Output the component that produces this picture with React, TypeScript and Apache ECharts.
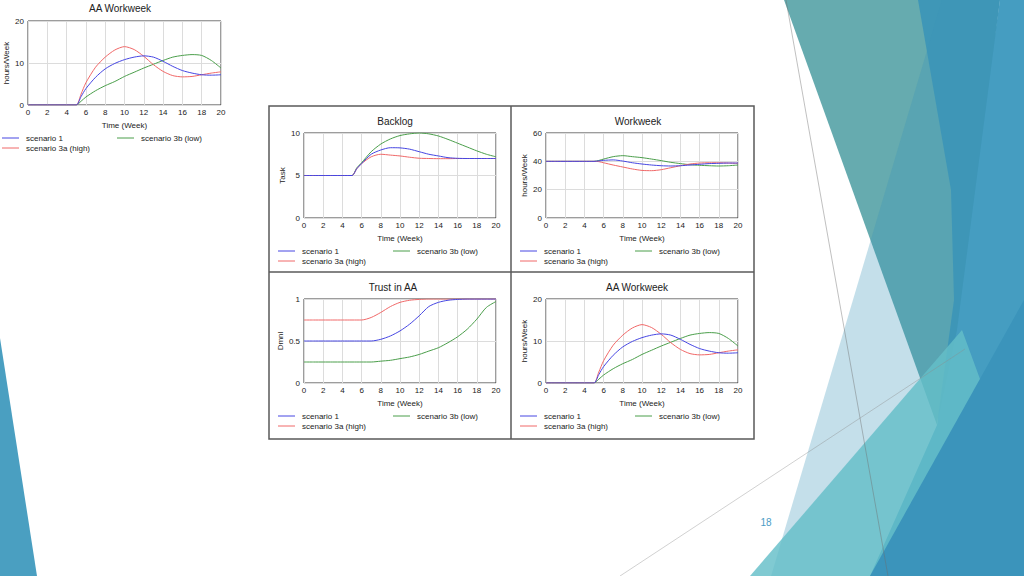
import React, { useEffect, useRef } from 'react';
import * as echarts from 'echarts';

// ---- data ----
const weeks = [0, 1, 2, 3, 4, 5, 5.5, 6, 7, 8, 9, 10, 11, 12, 13, 14, 15, 16, 17, 18, 19, 20];
const seriesNames = ['scenario 1', 'scenario 3a (high)', 'scenario 3b (low)'];

const aaWorkweekS1 = [0, 0, 0, 0, 0, 0, 2.0, 3.9, 6.6, 8.6, 9.9, 10.8, 11.4, 11.7, 11.4, 10.4, 9.2, 8.2, 7.6, 7.2, 7.1, 7.2];
const aaWorkweekS3a = [0, 0, 0, 0, 0, 0, 2.6, 5.3, 9.0, 11.4, 13.1, 13.9, 13.2, 11.6, 9.6, 8.0, 7.0, 6.7, 6.8, 7.2, 7.6, 7.9];
const aaWorkweekS3b = [0, 0, 0, 0, 0, 0, 0.9, 1.9, 3.4, 4.6, 5.6, 6.8, 7.8, 8.8, 9.7, 10.6, 11.4, 11.8, 12.0, 11.8, 10.6, 8.8];

const backlogS1 = [5, 5, 5, 5, 5, 5, 5.8, 6.4, 7.5, 8.0, 8.27, 8.25, 8.1, 7.8, 7.5, 7.3, 7.1, 7.02, 7, 7, 7, 7];
const backlogS3a = [5, 5, 5, 5, 5, 5, 5.8, 6.4, 7.2, 7.5, 7.4, 7.3, 7.15, 7.03, 7.0, 6.98, 6.98, 7.0, 7.0, 7.0, 7.0, 7.0];
const backlogS3b = [5, 5, 5, 5, 5, 5, 5.9, 6.5, 7.8, 8.7, 9.3, 9.7, 9.9, 10.0, 9.9, 9.65, 9.25, 8.8, 8.35, 7.9, 7.5, 7.2];

const workweekS1 = [40, 40, 40, 40, 40, 40, 40.3, 40.7, 41, 40.2, 39, 38.1, 37.4, 36.9, 36.7, 36.9, 37.4, 37.9, 38.4, 38.6, 38.8, 38.8];
const workweekS3a = [40, 40, 40, 40, 40, 40, 39.8, 39, 37.4, 36, 34.6, 33.6, 33.4, 34.1, 35.5, 36.9, 38.1, 38.8, 39, 39, 38.8, 38.6];
const workweekS3b = [40, 40, 40, 40, 40, 40, 40.6, 41.6, 43.3, 44, 43.3, 42.6, 41.6, 40.5, 39.3, 38.4, 37.6, 37.2, 36.9, 36.7, 36.9, 37.4];

const trustS1 = [0.5, 0.5, 0.5, 0.5, 0.5, 0.5, 0.5, 0.5, 0.5, 0.52, 0.56, 0.62, 0.70, 0.80, 0.91, 0.96, 0.985, 0.995, 1, 1, 1, 1];
const trustS3a = [0.75, 0.75, 0.75, 0.75, 0.75, 0.75, 0.75, 0.75, 0.78, 0.84, 0.91, 0.96, 0.985, 0.995, 1, 1, 1, 1, 1, 1, 1, 1];
const trustS3b = [0.25, 0.25, 0.25, 0.25, 0.25, 0.25, 0.25, 0.25, 0.25, 0.26, 0.27, 0.29, 0.31, 0.34, 0.38, 0.42, 0.48, 0.55, 0.64, 0.76, 0.90, 0.97];

const xAxisName = 'Time (Week)';
const pageNumber = '18';

// ---- layout ----
const FONT = '"Liberation Sans", Arial, sans-serif';
const lineColors = ['#4646e2', '#f06868', '#4a9e4a'];

const panels = [
  { title: 'AA Workweek', yName: 'hours/Week', yMax: 20, yStep: 10, data: [aaWorkweekS1, aaWorkweekS3a, aaWorkweekS3b], box: [28, 21, 193, 84], titleAt: [120, 8] },
  { title: 'Backlog', yName: 'Task', yMax: 10, yStep: 5, data: [backlogS1, backlogS3a, backlogS3b], box: [304, 133, 192, 85], titleAt: [395, 121] },
  { title: 'Workweek', yName: 'hours/Week', yMax: 60, yStep: 20, data: [workweekS1, workweekS3a, workweekS3b], box: [546, 133, 192, 85], titleAt: [638, 121] },
  { title: 'Trust in AA', yName: 'Dmnl', yMax: 1, yStep: 0.5, data: [trustS1, trustS3a, trustS3b], box: [304, 299, 192, 84], titleAt: [393, 287] },
  { title: 'AA Workweek', yName: 'hours/Week', yMax: 20, yStep: 10, data: [aaWorkweekS1, aaWorkweekS3a, aaWorkweekS3b], box: [546, 299, 192, 84], titleAt: [637, 287] },
];

function buildOption() {
  const grid: any[] = [];
  const xAxis: any[] = [];
  const yAxis: any[] = [];
  const series: any[] = [];
  const graphic: any[] = [];

  // decorations (background)
  const deco = (points: number[][], fill: string) =>
    graphic.push({ type: 'polygon', silent: true, z: 0, shape: { points }, style: { fill } });
  deco([[937, 425], [1000, 0], [1024, 0], [1024, 576], [870, 576]], '#4aa1c5');
  deco([[905, 0], [1000, 0], [957, 330], [938, 420], [905, 200]], '#3f97b7');
  deco([[784, 0], [918, 0], [951, 190], [954, 300], [937, 425]], '#66abaf');
  deco([[942, 0], [1024, 0], [1024, 576], [771, 576]], 'rgba(60,150,185,0.30)');
  deco([[750, 576], [962, 330], [995, 420], [905, 576]], 'rgba(100,190,200,0.82)');
  deco([[870, 576], [1024, 576], [1024, 300]], '#3b94bb');
  deco([[0, 338], [0, 576], [37, 576]], '#4a9fc1');
  graphic.push({ type: 'line', silent: true, z: 1, shape: { x1: 786, y1: 0, x2: 888, y2: 576 }, style: { stroke: 'rgba(110,110,110,0.55)', lineWidth: 0.8 } });
  graphic.push({ type: 'line', silent: true, z: 1, shape: { x1: 620, y1: 576, x2: 965, y2: 349 }, style: { stroke: 'rgba(140,140,140,0.5)', lineWidth: 0.8 } });
  graphic.push({ type: 'text', silent: true, x: 766, y: 522, style: { text: pageNumber, fill: '#4a9cc6', font: `10px ${FONT}`, textAlign: 'center', textVerticalAlign: 'middle' } });

  // panel frame
  graphic.push({ type: 'rect', silent: true, shape: { x: 269, y: 106, width: 485, height: 333 }, style: { fill: 'none', stroke: '#5a5a5a', lineWidth: 1.5 } });
  graphic.push({ type: 'line', silent: true, shape: { x1: 511, y1: 106, x2: 511, y2: 439 }, style: { stroke: '#5a5a5a', lineWidth: 1.5 } });
  graphic.push({ type: 'line', silent: true, shape: { x1: 269, y1: 272, x2: 754, y2: 272 }, style: { stroke: '#5a5a5a', lineWidth: 1.5 } });

  panels.forEach((p, i) => {
    const [L, T, W, H] = p.box;
    const B = T + H;
    grid.push({ left: L, top: T, width: W, height: H, show: true, borderColor: '#3a3a3a', borderWidth: 1, backgroundColor: 'transparent' });
    xAxis.push({
      type: 'value', gridIndex: i, min: 0, max: 20, interval: 2,
      axisLine: { show: false }, axisTick: { show: false },
      splitLine: { show: true, lineStyle: { color: '#dcdcdc', width: 1 } },
      axisLabel: { fontSize: 8, color: '#222', margin: 3, fontFamily: FONT },
      name: xAxisName, nameLocation: 'middle', nameGap: 16,
      nameTextStyle: { fontSize: 8, color: '#222', fontFamily: FONT },
    });
    yAxis.push({
      type: 'value', gridIndex: i, min: 0, max: p.yMax, interval: p.yStep,
      axisLine: { show: false }, axisTick: { show: false },
      splitLine: { show: true, lineStyle: { color: '#dcdcdc', width: 1 } },
      axisLabel: { fontSize: 8, color: '#222', margin: 4, fontFamily: FONT },
      name: p.yName, nameLocation: 'middle', nameGap: 18,
      nameTextStyle: { fontSize: 8, color: '#222', fontFamily: FONT },
    });
    p.data.forEach((arr, k) => {
      series.push({
        type: 'line', name: seriesNames[k], xAxisIndex: i, yAxisIndex: i,
        data: weeks.map((w, j) => [w, arr[j]]),
        showSymbol: false, smooth: 0.25,
        lineStyle: { color: lineColors[k], width: 1 }, itemStyle: { color: lineColors[k] },
        z: 3 - k,
      });
    });
    // title
    graphic.push({ type: 'text', silent: true, x: p.titleAt[0], y: p.titleAt[1], style: { text: p.title, fill: '#222', font: `10px ${FONT}`, textAlign: 'center', textVerticalAlign: 'middle' } });
    // legend
    const legendItems = [
      { k: 0, lx: L - 26, tx: L - 2, y: B + 33 },
      { k: 2, lx: L + 89, tx: L + 113, y: B + 33 },
      { k: 1, lx: L - 26, tx: L - 2, y: B + 43 },
    ];
    legendItems.forEach((it) => {
      graphic.push({ type: 'line', silent: true, shape: { x1: it.lx, y1: it.y, x2: it.lx + 17, y2: it.y }, style: { stroke: lineColors[it.k], lineWidth: 1 } });
      graphic.push({ type: 'text', silent: true, x: it.tx, y: it.y, style: { text: seriesNames[it.k], fill: '#222', font: `8px ${FONT}`, textAlign: 'left', textVerticalAlign: 'middle' } });
    });
  });

  return {
    animation: false,
    backgroundColor: '#ffffff',
    textStyle: { fontFamily: FONT },
    grid, xAxis, yAxis, series, graphic,
  };
}

export default function App() {
  const ref = useRef<HTMLDivElement>(null);
  useEffect(() => {
    const chart = echarts.init(ref.current!, null, { renderer: 'svg' });
    chart.setOption(buildOption());
    return () => chart.dispose();
  }, []);
  return <div ref={ref} style={{ position: 'absolute', left: 0, top: 0, width: 1024, height: 576, background: '#fff' }} />;
}
